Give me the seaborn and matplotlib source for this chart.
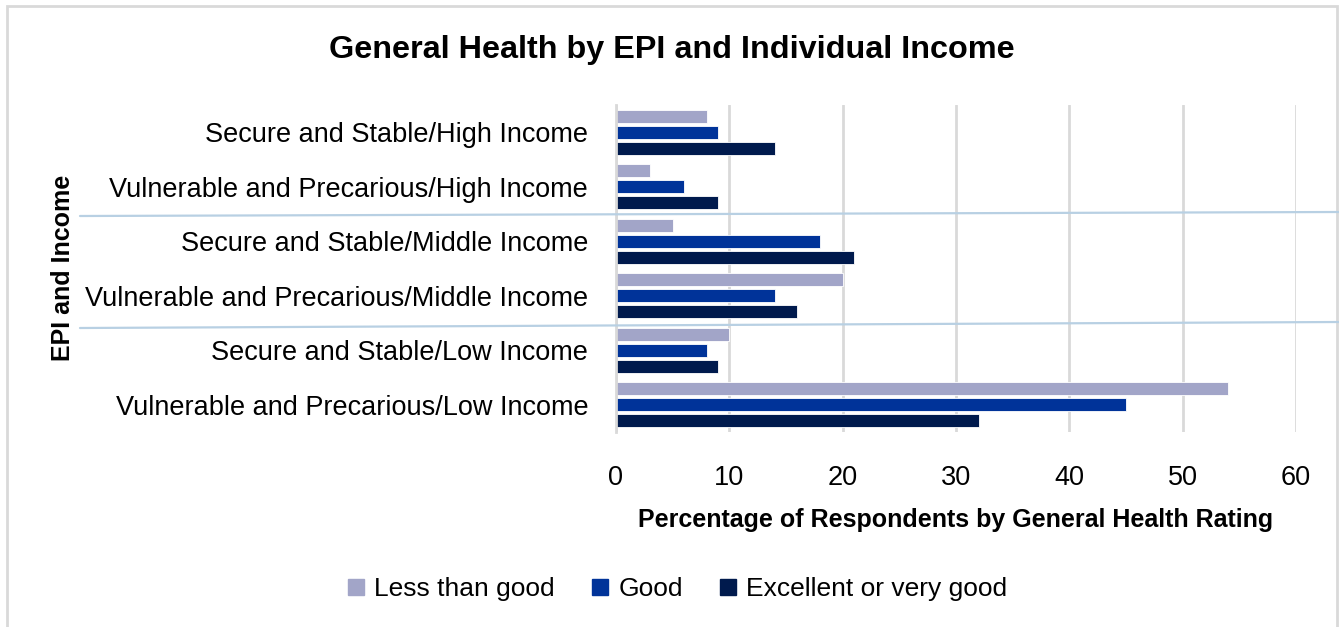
import matplotlib
matplotlib.use("Agg")
import matplotlib.pyplot as plt
from matplotlib.lines import Line2D
from matplotlib.patches import Rectangle
import seaborn as sns
import pandas as pd

categories = [
    "Secure and Stable/High Income",
    "Vulnerable and Precarious/High Income",
    "Secure and Stable/Middle Income",
    "Vulnerable and Precarious/Middle Income",
    "Secure and Stable/Low Income",
    "Vulnerable and Precarious/Low Income",
]
series_names = ["Less than good", "Good", "Excellent or very good"]
less_than_good = [8, 3, 5, 20, 10, 54]
good = [9, 6, 18, 14, 8, 45]
excellent = [14, 9, 21, 16, 9, 32]
x_ticks = [0, 10, 20, 30, 40, 50, 60]

colors = ["#A2A5C8", "#003399", "#001A4D"]

rows = []
for name, vals in zip(series_names, [less_than_good, good, excellent]):
    for cat, v in zip(categories, vals):
        rows.append({"EPI and Income": cat, "Rating": name, "Percentage": v})
df = pd.DataFrame(rows)

sns.set_theme(style="white")
plt.rcParams["font.family"] = ["Liberation Sans Narrow", "Liberation Sans", "DejaVu Sans"]
plt.rcParams["text.color"] = "black"
plt.rcParams["xtick.color"] = "black"
plt.rcParams["ytick.color"] = "black"
plt.rcParams["axes.labelcolor"] = "black"

fig = plt.figure(figsize=(13.39, 6.27), dpi=100)
ax = fig.add_axes([0.46, 0.311, 0.508, 0.5215])

sns.barplot(
    data=df, y="EPI and Income", x="Percentage", hue="Rating",
    order=categories, hue_order=series_names, palette=colors,
    orient="h", width=0.88, gap=0.18, ax=ax, legend=False,
    edgecolor="white", linewidth=0.6, saturation=1,
)

ax.set_xlim(0, 60)
ax.set_ylim(5.5, -0.5)
ax.set_xticks(x_ticks)
ax.set_xticklabels([str(t) for t in x_ticks], fontsize=19.5)
ax.tick_params(axis="y", labelsize=19.5, length=0, pad=20)
ax.tick_params(axis="x", length=0, pad=24)
ax.xaxis.grid(True, color="#D9D9D9", linewidth=2)
ax.set_axisbelow(True)
for s in ["top", "right", "bottom"]:
    ax.spines[s].set_visible(False)
ax.spines["left"].set_color("#D9D9D9")
ax.spines["left"].set_linewidth(2)
ax.set_ylabel("")
ax.set_xlabel("Percentage of Respondents by General Health Rating",
              fontsize=18, fontweight="bold", labelpad=12,
              family=["Liberation Sans", "DejaVu Sans"])

fig.text(0.047, 0.573, "EPI and Income", rotation=90, fontsize=18,
         fontweight="bold", ha="center", va="center",
         family=["Liberation Sans", "DejaVu Sans"])
fig.text(0.502, 0.92, "General Health by EPI and Individual Income",
         fontsize=23.3, fontweight="bold", ha="center", va="center",
         family=["Liberation Sans", "DejaVu Sans"])

handles = [Line2D([0], [0], marker="s", linestyle="none", markersize=12,
                  markerfacecolor=c, markeredgecolor=c) for c in colors]
fig.legend(handles, series_names, loc="center", bbox_to_anchor=(0.505, 0.061),
           ncol=3, frameon=False, fontsize=19, handletextpad=0.3,
           columnspacing=1.3, handlelength=0.8)

# chart frame
fig.patches.append(Rectangle((0.0052, -0.05), 0.9933, 1.04, transform=fig.transFigure,
                             fill=False, edgecolor="#D9D9D9", linewidth=2))
# thin rules crossing the figure
for y0, y1 in [(1 - 216 / 627, 1 - 212 / 627), (1 - 328 / 627, 1 - 322 / 627)]:
    fig.add_artist(Line2D([80 / 1339, 1.0], [y0, y1], transform=fig.transFigure,
                          color="#B8D0E3", linewidth=1.6))

fig.savefig("out.png", dpi=100)
